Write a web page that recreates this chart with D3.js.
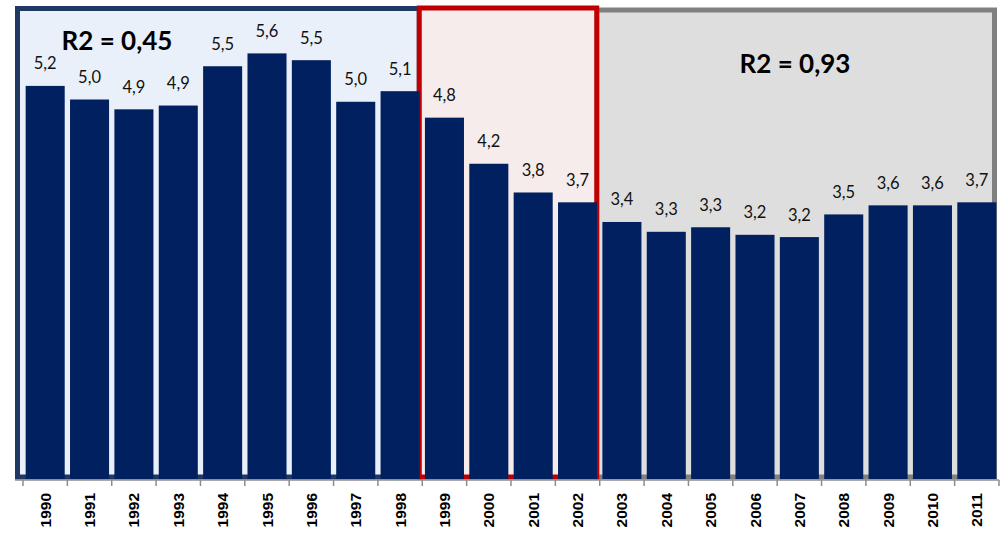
<!DOCTYPE html>
<html><head><meta charset="utf-8">
<script src="https://cdn.jsdelivr.net/npm/d3@7"></script>
<style>body{margin:0;background:#fff}</style>
</head><body><svg id="c" width="1006" height="533"></svg>
<script>
const years = ["1990","1991","1992","1993","1994","1995","1996","1997","1998","1999","2000","2001","2002","2003","2004","2005","2006","2007","2008","2009","2010","2011"];
const values = [5.20,5.02,4.89,4.94,5.46,5.63,5.54,4.99,5.13,4.78,4.17,3.79,3.66,3.40,3.27,3.33,3.23,3.20,3.50,3.62,3.62,3.66];
const periods = [
  {from:"1990", to:"1998", fill:"#EAF0F9", stroke:"#1F3864", label:"R2 = 0,45"},
  {from:"1999", to:"2002", fill:"#F6ECEC", stroke:"#C00000", label:""},
  {from:"2003", to:"2011", fill:"#DEDEDE", stroke:"#808080", label:"R2 = 0,93"}
];

const svg = d3.select("#c");
const x = d3.scaleBand().domain(years).range([23, 999]).paddingInner(0.12).paddingOuter(0.06);
const y = d3.scaleLinear().domain([0, 6.2]).range([479, 10.3]);
const step = x.step();
const edge = yr => x(yr) - x.paddingInner()*step/2;

// period boxes
const boxTops = [8.5, 8, 10];
const boxes = svg.append("g");
periods.forEach((p,i) => {
  let x0 = edge(p.from) - 3;
  let x1 = edge(p.to) + step - 3;
  if (i === 0) x0 = 17.5;
  if (i === 2) x1 = 994.5;
  p.x0 = x0; p.x1 = x1;
});
[2,0,1].forEach(i => {
  const p = periods[i];
  boxes.append("rect")
    .attr("x", p.x0).attr("y", boxTops[i])
    .attr("width", p.x1 - p.x0).attr("height", 477 - boxTops[i])
    .attr("fill", p.fill).attr("stroke", p.stroke).attr("stroke-width", 5);
});

// bars
svg.append("g").selectAll("rect").data(values).join("rect")
  .attr("x", (d,i) => x(years[i]))
  .attr("width", x.bandwidth())
  .attr("y", d => y(d))
  .attr("height", d => y(0) - y(d))
  .attr("fill", "#00205F");

// value labels
const fmt = d => d3.format(".1f")(d).replace(".", ",");
svg.append("g").selectAll("text").data(values).join("text")
  .attr("x", (d,i) => x(years[i]) + x.bandwidth()/2)
  .attr("y", d => y(d) - 16.5)
  .attr("text-anchor", "middle")
  .attr("font-family", "Lato, 'Open Sans', sans-serif")
  .attr("font-size", 16.5)
  .attr("fill", "#111")
  .text(fmt);

// R2 labels
svg.append("text").attr("x", 117).attr("y", 50).attr("text-anchor","middle")
  .attr("font-family","Lato, sans-serif").attr("font-weight","bold").attr("font-size",26)
  .attr("fill","#000").text(periods[0].label);
svg.append("text").attr("x", 795).attr("y", 73).attr("text-anchor","middle")
  .attr("font-family","Lato, sans-serif").attr("font-weight","bold").attr("font-size",26)
  .attr("fill","#000").text(periods[2].label);

// x axis
const ax = svg.append("g").attr("transform","translate(0,480)");
ax.append("line").attr("x1",15).attr("x2",999).attr("y1",0).attr("y2",0)
  .attr("stroke","#8C8C8C").attr("stroke-width",1.5);
const tickX = years.map(yr => edge(yr)).concat([999]);
ax.selectAll("line.t").data(tickX).join("line").attr("class","t")
  .attr("x1", d=>d).attr("x2", d=>d).attr("y1",0).attr("y2",6)
  .attr("stroke","#8C8C8C").attr("stroke-width",1.5);
ax.selectAll("text").data(years).join("text")
  .attr("transform", d => `translate(${x(d)+x.bandwidth()/2+5.5},13) rotate(-90)`)
  .attr("text-anchor","end")
  .attr("font-family","'Liberation Sans', Arial, sans-serif")
  .attr("font-weight","bold").attr("font-size",15.5)
  .attr("fill","#000")
  .text(d=>d);
</script></body></html>
